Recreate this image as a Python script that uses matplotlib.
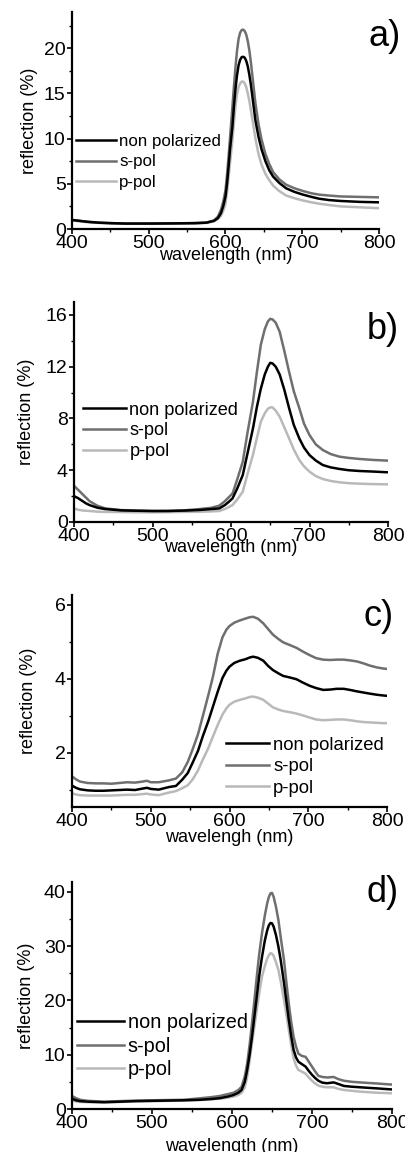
import matplotlib
matplotlib.use("Agg")
import matplotlib.pyplot as plt
from matplotlib.ticker import MultipleLocator

plt.rcParams['font.family'] = ['Liberation Sans', 'DejaVu Sans']

labels = ["non polarized", "s-pol", "p-pol"]
colors = ["#000000", "#6f6f6f", "#b9b9b9"]

# ---- a) ----
wl_a = [400, 410, 420, 435, 450, 470, 500, 530, 560, 575, 585, 590, 594, 597, 600, 602, 604, 606, 609, 611,
		613, 615, 617, 619, 621, 623, 625, 627, 629, 631, 633, 636, 639, 643, 647, 652, 657, 662, 670, 679,
		690, 701, 712, 722, 735, 750, 775, 800]
non_a = [1.0, 0.9, 0.8, 0.7, 0.65, 0.6, 0.6, 0.62, 0.65, 0.7, 0.9, 1.2, 1.74, 2.5, 3.6, 5.0, 6.9, 8.9, 11.3, 13.6,
		 15.5, 17.0, 18.1, 18.7, 19.0, 19.05, 18.95, 18.6, 18.0, 17.1, 16.0, 14.0, 12.0, 10.2, 8.8, 7.5, 6.5, 5.8, 5.1, 4.5,
		 4.1, 3.8, 3.55, 3.35, 3.2, 3.1, 3.0, 2.95]
s_a = [1.0, 0.9, 0.8, 0.7, 0.65, 0.6, 0.6, 0.62, 0.65, 0.7, 0.95, 1.35, 2.1, 3.0, 4.3, 6.0, 8.0, 10.2, 13.5, 15.8,
	   17.9, 19.7, 21.0, 21.7, 22.0, 22.05, 21.9, 21.5, 20.8, 19.8, 18.5, 16.2, 13.9, 11.6, 9.9, 8.3, 7.2, 6.3, 5.5, 4.9,
	   4.5, 4.2, 3.95, 3.8, 3.7, 3.6, 3.55, 3.5]
p_a = [0.95, 0.85, 0.75, 0.67, 0.62, 0.58, 0.58, 0.6, 0.62, 0.67, 0.85, 1.1, 1.44, 2.0, 2.8, 4.1, 5.7, 7.4, 9.8, 11.8,
	   13.6, 14.9, 15.7, 16.1, 16.3, 16.3, 16.1, 15.7, 15.0, 14.2, 13.2, 11.6, 10.0, 8.3, 7.1, 6.1, 5.4, 4.8, 4.2, 3.7,
	   3.4, 3.15, 2.95, 2.8, 2.65, 2.5, 2.4, 2.3]

# ---- b) ----
wl_b = [400, 405, 410, 415, 420, 430, 440, 460, 480, 500, 520, 540, 560, 575, 585, 592, 597, 602, 608, 615,
		621, 628, 633, 638, 643, 647, 650, 653, 657, 662, 668, 674, 680, 687, 693, 700, 708, 717, 727, 738,
		750, 764, 780, 800]
non_b = [2.0, 1.85, 1.65, 1.45, 1.3, 1.1, 1.0, 0.9, 0.87, 0.85, 0.85, 0.88, 0.93, 1.0, 1.05, 1.3, 1.55, 1.83, 2.6, 3.63,
		 5.3, 7.24, 8.9, 10.3, 11.4, 12.0, 12.3, 12.25, 12.0, 11.4, 10.2, 8.8, 7.5, 6.46, 5.75, 5.17, 4.75, 4.4, 4.22, 4.1,
		 4.0, 3.94, 3.9, 3.84]
s_b = [2.8, 2.5, 2.2, 1.9, 1.6, 1.25, 1.05, 0.92, 0.88, 0.85, 0.86, 0.9, 1.0, 1.1, 1.26, 1.6, 1.9, 2.21, 3.3, 4.66,
	   6.9, 9.3, 11.6, 13.7, 14.9, 15.5, 15.7, 15.65, 15.4, 14.7, 13.2, 11.6, 10.1, 8.8, 7.6, 6.72, 6.0, 5.56, 5.25, 5.05,
	   4.95, 4.87, 4.8, 4.74]
p_b = [1.05, 0.95, 0.9, 0.87, 0.85, 0.8, 0.78, 0.77, 0.75, 0.75, 0.76, 0.78, 0.79, 0.82, 0.85, 1.0, 1.15, 1.31, 1.75, 2.34,
	   3.7, 5.2, 6.5, 7.75, 8.4, 8.75, 8.86, 8.85, 8.6, 8.14, 7.3, 6.46, 5.6, 4.79, 4.3, 3.89, 3.55, 3.32, 3.17, 3.07,
	   3.0, 2.96, 2.93, 2.91]

# ---- c) ----
wl_c = [400, 405, 410, 420, 430, 440, 450, 460, 470, 480, 490, 495, 500, 510, 523, 532, 540, 547, 553, 560,
		566, 573, 579, 585, 591, 596, 600, 606, 613, 620, 626, 630, 636, 643, 649, 655, 662, 668, 676, 685,
		693, 702, 710, 719, 728, 736, 745, 753, 762, 770, 778, 787, 795, 800]
non_c = [1.11, 1.05, 1.01, 0.98, 0.97, 0.97, 0.98, 0.99, 1.0, 0.99, 1.03, 1.05, 1.02, 1.0, 1.07, 1.1, 1.27, 1.45, 1.72, 2.05,
		 2.44, 2.85, 3.25, 3.65, 4.02, 4.22, 4.33, 4.43, 4.49, 4.53, 4.58, 4.6, 4.57, 4.49, 4.35, 4.24, 4.15, 4.08, 4.04, 3.99,
		 3.9, 3.81, 3.75, 3.7, 3.71, 3.73, 3.73, 3.7, 3.66, 3.63, 3.6, 3.57, 3.55, 3.54]
s_c = [1.36, 1.28, 1.22, 1.18, 1.17, 1.17, 1.16, 1.18, 1.2, 1.19, 1.22, 1.24, 1.2, 1.2, 1.25, 1.3, 1.47, 1.75, 2.08, 2.5,
	   2.98, 3.55, 4.06, 4.68, 5.12, 5.33, 5.43, 5.52, 5.58, 5.63, 5.67, 5.68, 5.63, 5.5, 5.35, 5.2, 5.08, 4.99, 4.92, 4.84,
	   4.74, 4.64, 4.56, 4.52, 4.51, 4.52, 4.52, 4.5, 4.47, 4.42, 4.36, 4.31, 4.28, 4.27]
p_c = [0.9, 0.87, 0.85, 0.84, 0.84, 0.84, 0.84, 0.85, 0.86, 0.86, 0.88, 0.89, 0.87, 0.85, 0.92, 0.96, 1.04, 1.12, 1.27, 1.52,
	   1.81, 2.12, 2.44, 2.75, 3.03, 3.2, 3.3, 3.38, 3.43, 3.47, 3.51, 3.52, 3.49, 3.43, 3.33, 3.23, 3.17, 3.13, 3.1, 3.06,
	   3.01, 2.95, 2.9, 2.88, 2.89, 2.9, 2.9, 2.88, 2.85, 2.83, 2.82, 2.81, 2.8, 2.8]

# ---- d) ----
wl_d = [400, 405, 410, 420, 440, 460, 480, 500, 520, 540, 560, 575, 585, 595, 602, 608, 612, 616, 619, 622,
		625, 628, 631, 634, 637.5, 641, 644, 646, 648, 650, 652, 655, 658, 661, 665, 668, 671, 674, 677, 680,
		683, 687, 692, 696, 700, 704, 708, 713, 719, 727, 733, 740, 750, 760, 770, 781, 790, 800]
non_d = [1.9, 1.6, 1.45, 1.35, 1.25, 1.35, 1.45, 1.5, 1.55, 1.6, 1.7, 1.85, 2.0, 2.3, 2.58, 3.0, 3.5, 5.0, 7.2, 10.0,
		 13.3, 17.0, 20.7, 24.5, 28.0, 31.0, 32.9, 33.8, 34.25, 34.2, 33.6, 32.0, 29.9, 27.3, 23.2, 19.8, 16.4, 13.4, 10.9, 9.5,
		 8.7, 8.3, 7.8, 7.0, 6.3, 5.7, 5.2, 4.85, 4.74, 4.9, 4.6, 4.24, 4.1, 4.0, 3.9, 3.8, 3.7, 3.6]
s_d = [2.4, 2.0, 1.7, 1.5, 1.35, 1.45, 1.55, 1.6, 1.65, 1.7, 1.97, 2.2, 2.4, 2.75, 3.0, 3.5, 4.1, 6.0, 8.4, 11.8,
	   15.8, 20.0, 24.4, 28.5, 32.4, 35.6, 37.9, 39.0, 39.7, 39.8, 39.1, 37.2, 34.8, 31.5, 27.4, 23.3, 19.4, 16.0, 13.3, 11.5,
	   10.2, 9.8, 9.6, 8.7, 7.8, 6.9, 6.1, 5.9, 5.8, 5.9, 5.5, 5.2, 5.0, 4.9, 4.8, 4.7, 4.6, 4.5]
p_d = [1.5, 1.4, 1.3, 1.25, 1.2, 1.3, 1.4, 1.45, 1.5, 1.55, 1.66, 1.8, 1.9, 2.1, 2.3, 2.6, 3.0, 4.0, 5.95, 8.9,
	   12.1, 15.2, 18.2, 21.3, 24.4, 26.3, 27.7, 28.3, 28.7, 28.6, 28.2, 27.0, 25.6, 23.4, 20.1, 17.4, 14.6, 11.8, 9.3, 8.0,
	   7.2, 6.9, 6.5, 5.8, 5.2, 4.7, 4.3, 4.1, 4.0, 4.0, 3.7, 3.5, 3.35, 3.2, 3.1, 3.0, 2.95, 2.9]

W, H = 406, 1152
fig = plt.figure(figsize=(W / 100, H / 100), dpi=100)


def panel(box, wl, series, ylim, ymaj, ymin, xlab, xlab_top, ylab_right, tag, tag_xy, leg):
	left, right, top, bottom = box
	ax = fig.add_axes([left / W, 1 - bottom / H, (right - left) / W, (bottom - top) / H])
	# black on top
	for i in [2, 1, 0]:
		ax.plot(wl, series[i], color=colors[i], lw=1.8, label=labels[i], zorder=3 - i)
	ax.set_xlim(400, 800)
	ax.set_ylim(*ylim)
	ax.xaxis.set_major_locator(MultipleLocator(100))
	ax.xaxis.set_minor_locator(MultipleLocator(50))
	ax.yaxis.set_major_locator(MultipleLocator(ymaj))
	ax.yaxis.set_minor_locator(MultipleLocator(ymin))
	for s in ["top", "right"]:
		ax.spines[s].set_visible(False)
	for s in ["left", "bottom"]:
		ax.spines[s].set_linewidth(1.6)
	ax.tick_params(which='major', direction='out', length=3.5, width=1.2, labelsize=14, pad=1.0)
	ax.tick_params(which='minor', direction='out', length=2.0, width=1.0)
	hgt = bottom - top
	ax.set_xlabel(xlab, fontsize=13)
	ax.xaxis.set_label_coords(0.5, (bottom - xlab_top) / hgt)
	ax.set_ylabel("reflection (%)", fontsize=13)
	ax.yaxis.set_label_coords((ylab_right - left) / (right - left), 0.5)
	# legend in reference order
	lx, ly, fs, lsp = leg
	fs_px = fs * 100 / 72
	handles, labs = ax.get_legend_handles_labels()
	order = [2, 1, 0]
	ax.legend([handles[k] for k in order], [labs[k] for k in order], frameon=False, fontsize=fs,
			  loc='upper left', bbox_to_anchor=((lx - left) / (right - left), (bottom - (ly - 0.45 * fs_px)) / hgt),
			  borderpad=0, borderaxespad=0, handlelength=2.35, handletextpad=0.2, labelspacing=lsp)
	fig.text(tag_xy[0] / W, 1 - tag_xy[1] / H, tag, fontsize=26, ha='left', va='center')
	return ax


panel((72, 379, 12, 229), wl_a, [non_a, s_a, p_a], (0, 24), 5, 2.5,
	  "wavelength (nm)", 247, 38, "a)", (369, 37), (76, 142, 12.2, 0.3))
panel((74, 388, 302, 522), wl_b, [non_b, s_b, p_b], (0, 17), 4, 2,
	  "wavelength (nm)", 539, 35, "b)", (367, 330), (83, 410, 13.1, 0.2))
panel((72, 387, 595, 807), wl_c, [non_c, s_c, p_c], (0.53, 6.27), 2, 1,
	  "wavelengh (nm)", 829, 37, "c)", (364, 616), (226, 745, 13.3, 0.24))
panel((72, 392, 882, 1109), wl_d, [non_d, s_d, p_d], (0, 41.8), 10, 5,
	  "wavelength (nm)", 1138, 35, "d)", (367, 892), (77, 1022, 14.3, 0.23))

fig.savefig("out.png", dpi=100, facecolor="white")
